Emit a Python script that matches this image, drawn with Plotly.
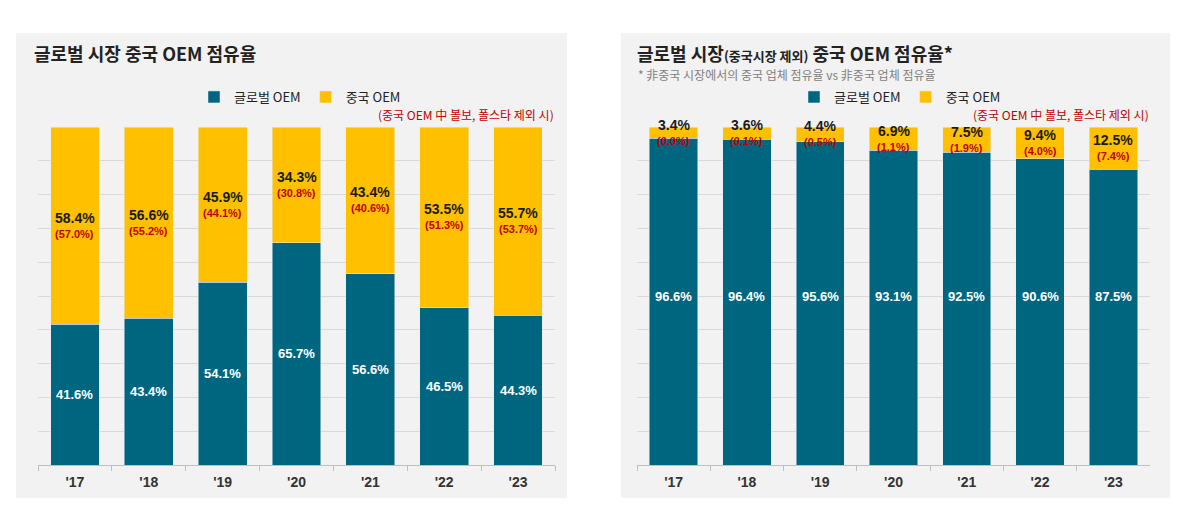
import plotly.graph_objects as go

years = ["'17", "'18", "'19", "'20", "'21", "'22", "'23"]

# Left panel: global market
global_oem_1 = [41.6, 43.4, 54.1, 65.7, 56.6, 46.5, 44.3]
china_oem_1 = [58.4, 56.6, 45.9, 34.3, 43.4, 53.5, 55.7]
china_excl_1 = ["(57.0%)", "(55.2%)", "(44.1%)", "(30.8%)", "(40.6%)", "(51.3%)", "(53.7%)"]

# Right panel: global market excluding China
global_oem_2 = [96.6, 96.4, 95.6, 93.1, 92.5, 90.6, 87.5]
china_oem_2 = [3.4, 3.6, 4.4, 6.9, 7.5, 9.4, 12.5]
china_excl_2 = ["(0.0%)", "(0.1%)", "(0.5%)", "(1.1%)", "(1.9%)", "(4.0%)", "(7.4%)"]

BLUE = "#006680"
YELLOW = "#FFC000"
RED = "#C00000"
BG = "#F2F2F2"
FONT = "Arial, 'Liberation Sans', 'Noto Sans CJK KR', sans-serif"
KFONT = "'Noto Sans CJK KR', Arial, sans-serif"

# page has an 8px body margin; figure sized to fit inside the window
OFF = 8
W, H = 1184, 510

def px(x):
    return (x - OFF) / W

def py(y):
    return (H - (y - OFF)) / H

fig = go.Figure()

fig.add_trace(go.Bar(x=years, y=global_oem_1, name="글로벌 OEM", marker_color=BLUE,
                     xaxis="x", yaxis="y", legend="legend", hoverinfo="skip"))
fig.add_trace(go.Bar(x=years, y=china_oem_1, name="중국 OEM", marker_color=YELLOW,
                     xaxis="x", yaxis="y", legend="legend", hoverinfo="skip"))
fig.add_trace(go.Bar(x=years, y=global_oem_2, name="글로벌 OEM", marker_color=BLUE,
                     xaxis="x2", yaxis="y2", legend="legend2", hoverinfo="skip"))
fig.add_trace(go.Bar(x=years, y=china_oem_2, name="중국 OEM", marker_color=YELLOW,
                     xaxis="x2", yaxis="y2", legend="legend2", hoverinfo="skip"))

ann = []

def add_labels(xref, yref, g, c, sub, blue_mid):
    for i, yr in enumerate(years):
        by = g[i] / 2 if blue_mid is None else blue_mid
        ann.append(dict(x=yr, y=by, xref=xref, yref=yref, text=f"<b>{g[i]:.1f}%</b>",
                        showarrow=False, font=dict(family=FONT, size=13, color="white")))
        cy = g[i] + c[i] / 2
        ann.append(dict(x=yr, y=cy, xref=xref, yref=yref, text=f"<b>{c[i]:.1f}%</b>",
                        showarrow=False, yshift=8,
                        font=dict(family=FONT, size=14, color="#1a1a1a")))
        ann.append(dict(x=yr, y=cy, xref=xref, yref=yref, text=f"<b>{sub[i]}</b>",
                        showarrow=False, yshift=-8,
                        font=dict(family=FONT, size=11, color=RED)))

add_labels("x", "y", global_oem_1, china_oem_1, china_excl_1, None)
add_labels("x2", "y2", global_oem_2, china_oem_2, china_excl_2, 50)

# Titles
ann.append(dict(x=px(32), y=py(53), xref="paper", yref="paper", xanchor="left", yanchor="middle",
                text="<b>글로벌 시장 중국 OEM 점유율</b>", showarrow=False,
                font=dict(family=KFONT, size=18, color="#222222")))
ann.append(dict(x=px(635), y=py(53), xref="paper", yref="paper", xanchor="left", yanchor="middle",
                text="<b>글로벌 시장<span style='font-size:13px'>(중국시장 제외)</span> 중국 OEM 점유율*</b>",
                showarrow=False, font=dict(family=KFONT, size=18, color="#222222")))
ann.append(dict(x=px(636), y=py(75), xref="paper", yref="paper", xanchor="left", yanchor="middle",
                text="* 非중국 시장에서의 중국 업체 점유율 vs 非중국 업체 점유율",
                showarrow=False, font=dict(family=KFONT, size=12, color="#808080")))
# Red notes
for xr in (556, 1151):
    ann.append(dict(x=px(xr), y=py(114), xref="paper", yref="paper", xanchor="right", yanchor="middle",
                    text="(중국 OEM 中 볼보, 폴스타 제외 시)", showarrow=False,
                    font=dict(family=KFONT, size=12, color=RED)))

shapes = [
    dict(type="rect", xref="paper", yref="paper", x0=px(16), x1=px(567), y0=py(498), y1=py(33),
         fillcolor=BG, line_width=0, layer="below"),
    dict(type="rect", xref="paper", yref="paper", x0=px(621), x1=px(1170), y0=py(498), y1=py(33),
         fillcolor=BG, line_width=0, layer="below"),
]

xax = dict(type="category", showgrid=False, showline=True, linecolor="#BFBFBF", linewidth=1,
           ticks="outside", tickson="boundaries", ticklen=5, tickcolor="#BFBFBF",
           ticklabelstandoff=4,
           tickfont=dict(family=FONT, size=14, color="#333333", weight="bold"), fixedrange=True)
yax = dict(range=[0, 100], dtick=10, showgrid=True, gridcolor="#D9D9D9", gridwidth=1,
           showticklabels=False, zeroline=False, fixedrange=True)

legend_common = dict(orientation="h", xanchor="center", yanchor="middle", bgcolor="rgba(0,0,0,0)",
                     font=dict(family=KFONT, size=13, color="#222222"), traceorder="normal",
                     itemwidth=30, itemclick=False, itemdoubleclick=False)

fig.update_layout(
    width=W, height=H, margin=dict(l=0, r=0, t=0, b=0),
    paper_bgcolor="white", plot_bgcolor="rgba(0,0,0,0)",
    barmode="stack", bargap=0.34,
    xaxis=dict(domain=[px(38), px(555)], anchor="y", **xax),
    yaxis=dict(domain=[py(465), py(127)], anchor="x", **yax),
    xaxis2=dict(domain=[px(637), px(1150)], anchor="y2", **xax),
    yaxis2=dict(domain=[py(465), py(127)], anchor="x2", **yax),
    legend=dict(x=px(300), y=py(97), **legend_common),
    legend2=dict(x=px(900), y=py(97), **legend_common),
    annotations=ann, shapes=shapes, showlegend=True,
)

fig.write_html("out.html")
